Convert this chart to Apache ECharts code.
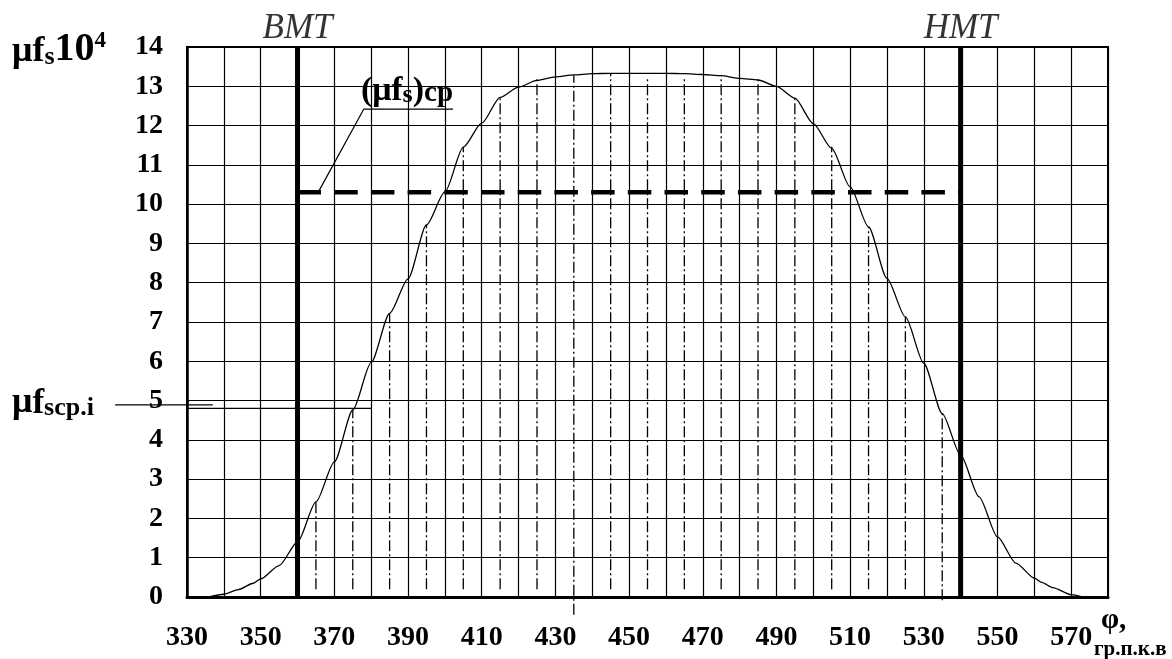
<!DOCTYPE html>
<html><head><meta charset="utf-8">
<script src="https://cdn.jsdelivr.net/npm/echarts@6/dist/echarts.min.js"></script>
<style>html,body{margin:0;padding:0;background:#fff}#c{width:1172px;height:659px}</style>
</head><body><div id="c"></div>
<script>
// angle of crankshaft, degrees
const phi  = [336, 340, 344, 348, 350, 355, 360, 365, 370, 375, 380, 385, 390, 395, 400, 405, 410, 415, 420, 425, 430, 435, 440, 445, 450, 455, 460, 465, 470, 475, 480, 485, 490, 495, 500, 505, 510, 515, 520, 525, 530, 535, 540, 545, 550, 555, 560, 562, 565, 570, 573];
// μfs·10^4
const muFs = [0, 0.07, 0.19, 0.35, 0.46, 0.8, 1.4, 2.42, 3.44, 4.76, 5.97, 7.22, 8.1, 9.47, 10.31, 11.45, 12.06, 12.72, 12.98, 13.15, 13.24, 13.29, 13.32, 13.33, 13.33, 13.33, 13.33, 13.32, 13.3, 13.27, 13.2, 13.16, 13.0, 12.7, 12.05, 11.42, 10.44, 9.42, 8.11, 7.13, 5.95, 4.67, 3.61, 2.55, 1.53, 0.86, 0.48, 0.37, 0.24, 0.06, 0];
// average values on 10° intervals (dash-dot ordinates)
const dashPhi    = [365, 375, 385, 395, 405, 415, 425, 435, 445, 455, 465, 475, 485, 495, 505, 515, 525, 535];
const dashTop    = [2.47, 4.76, 7.22, 9.47, 11.45, 12.72, 13.18, 13.28, 13.33, 13.2, 13.2, 13.28, 13.17, 12.73, 11.46, 9.42, 7.13, 4.67];
const dashBottom = [0.2, 0.2, 0.2, 0.2, 0.2, 0.2, 0.2, -0.45, 0.2, 0.2, 0.2, 0.2, 0.2, 0.2, 0.2, 0.2, 0.2, -0.08];
const meanValue = 10.3;
const deadCenters = [360, 540];
const deadCenterNames = ['ВМТ', 'НМТ'];
const xTickLabels = [330, 350, 370, 390, 410, 430, 450, 470, 490, 510, 530, 550, 570];
const meanLeader = [[365.6, 10.3], [378, 12.42], [402.2, 12.42]];
const iLeaderIn  = [[330, 4.8], [380, 4.8]];
const iLeaderOut = [[310.5, 4.89], [337, 4.89]];

const SERIF = '"Liberation Serif", "DejaVu Serif", serif';
const chart = echarts.init(document.getElementById('c'), null, {renderer: 'canvas'});
const blackLine = (w, t) => ({color: '#000', width: w, type: t || 'solid'});
const bold = (size, va) => ({fontFamily: SERIF, fontSize: size, fontWeight: 'bold', verticalAlign: va || 'bottom', color: '#000', fill: '#000'});

const series = [
  {
    type: 'line', data: phi.map((p, i) => [p, muFs[i]]), symbol: 'none', smooth: 0.25, smoothMonotone: 'x',
    lineStyle: blackLine(1.3), z: 5
  },
  {
    type: 'line', data: deadCenters.map(p => [p, meanValue]), symbol: 'none',
    lineStyle: blackLine(4.5, [23.5, 13.2]), z: 4
  },
  {type: 'line', data: meanLeader, symbol: 'none', lineStyle: blackLine(1.2), z: 4},
  {type: 'line', data: iLeaderIn, symbol: 'none', lineStyle: blackLine(1.2), z: 4}
];
dashPhi.forEach((p, i) => series.push({
  type: 'line', data: [[p, dashBottom[i]], [p, dashTop[i]]], symbol: 'none', clip: false,
  lineStyle: blackLine(1.3, [11, 3, 2, 3]), z: 3
}));
deadCenters.forEach(p => series.push({
  type: 'line', data: [[p, 0], [p, 14]], symbol: 'none', clip: false,
  lineStyle: blackLine(5), z: 6
}));
series.push({
  type: 'scatter', data: deadCenters.map(p => [p, 14]), symbolSize: 1, itemStyle: {color: 'rgba(0,0,0,0)'},
  label: {show: true, position: 'top', distance: 0, formatter: pr => deadCenterNames[pr.dataIndex],
    color: '#000', fontFamily: SERIF, fontStyle: 'italic', fontSize: 35}, z: 7
});

chart.setOption({
  animation: false,
  backgroundColor: '#fff',
  grid: {left: 187, right: 64, top: 47, bottom: 62, show: true, borderColor: '#000', borderWidth: 2, backgroundColor: 'transparent'},
  xAxis: {
    type: 'value', min: 330, max: 580, interval: 10,
    axisLine: {show: true, onZero: false, lineStyle: blackLine(3)},
    axisTick: {show: false},
    splitLine: {show: true, lineStyle: blackLine(1.2)},
    axisLabel: {
      formatter: v => xTickLabels.includes(v) ? String(v) : '',
      color: '#000', fontFamily: SERIF, fontWeight: 'bold', fontSize: 28, margin: 27,
      showMaxLabel: true, showMinLabel: true
    }
  },
  yAxis: {
    type: 'value', min: 0, max: 14, interval: 1,
    axisLine: {show: true, lineStyle: blackLine(2.5)},
    axisTick: {show: false},
    splitLine: {show: true, lineStyle: blackLine(1.2)},
    axisLabel: {color: '#000', fontFamily: SERIF, fontWeight: 'bold', fontSize: 28, margin: 24}
  },
  series: series,
  graphic: [
    {
      type: 'text', left: 12, top: 30, z: 10,
      style: {
        text: '{m|μ}{f|f}{s|s}{n|10}{p|4}',
        rich: {m: bold(36), f: bold(36), s: bold(26), n: bold(40), p: bold(23, 'top')}
      }
    },
    {
      type: 'text', left: 361, top: 74, z: 10,
      style: {
        text: '{b|(}{m|μ}{f|f}{s|s}{b|)}{c|ср}',
        rich: {b: bold(34), m: bold(34), f: bold(33), s: bold(26), c: bold(29)}
      }
    },
    {
      type: 'text', left: 12, top: 385, z: 10,
      style: {
        text: '{m|μ}{f|f}{s|scp.i}',
        rich: {m: bold(36), f: bold(35), s: bold(26)}
      }
    },
    {
      type: 'text', left: 1101, top: 606, z: 10,
      style: {text: 'φ,', fontFamily: SERIF, fontSize: 29, fontWeight: 'bold', fill: '#000'}
    },
    {
      type: 'text', left: 1094, top: 639, z: 10,
      style: {text: 'гр.п.к.в', fontFamily: SERIF, fontSize: 21, fontWeight: 'bold', fill: '#000'}
    }
  ]
});

// leader of the μfscp.i label, partly outside the plot area
const a = chart.convertToPixel({gridIndex: 0}, iLeaderOut[0]);
const b = chart.convertToPixel({gridIndex: 0}, iLeaderOut[1]);
chart.setOption({
  graphic: [{
    id: 'iLeaderOut', type: 'line', z: 9,
    shape: {x1: a[0], y1: a[1], x2: b[0], y2: b[1]},
    style: {stroke: '#000', lineWidth: 1.2}
  }]
});
</script>
</body></html>
